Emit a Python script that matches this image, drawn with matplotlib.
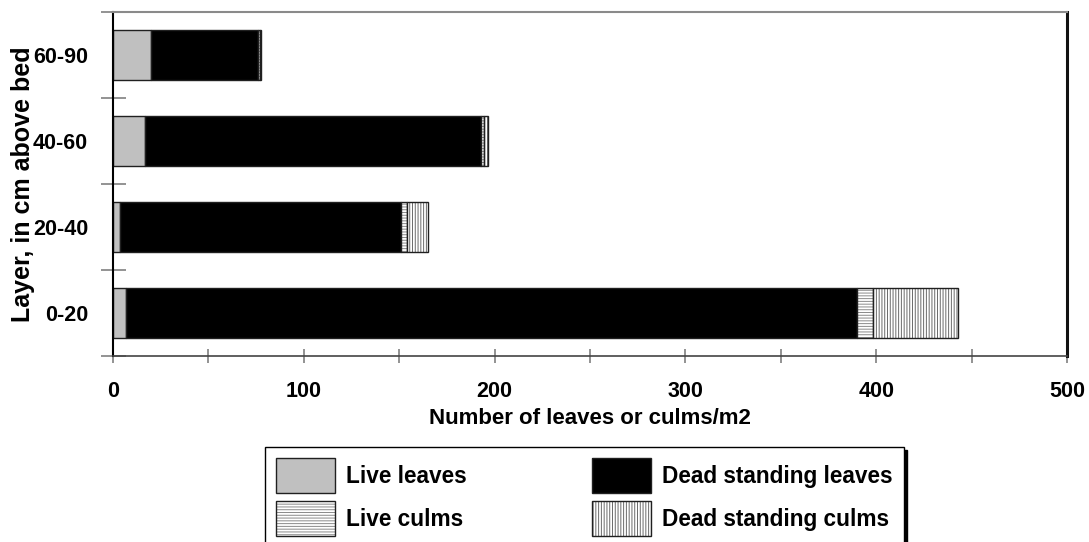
import matplotlib
matplotlib.use("Agg")
import matplotlib.pyplot as plt
from matplotlib.patches import Patch
from matplotlib.legend_handler import HandlerTuple
import numpy as np

# data
layers = ["0-20", "20-40", "40-60", "60-90"]
live_leaves = [7.0, 3.5, 17.0, 19.8]
dead_leaves = [383.1, 147.4, 175.8, 56.4]
live_culms = [8.3, 3.3, 1.5, 0.8]
dead_culms = [44.7, 11.0, 2.2, 0.8]

series_names = ["Live leaves", "Dead standing leaves", "Live culms", "Dead standing culms"]
xticks = [0, 100, 200, 300, 400, 500]

plt.rcParams["font.family"] = ["Liberation Sans", "DejaVu Sans"]
plt.rcParams["font.weight"] = "bold"
plt.rcParams["hatch.linewidth"] = 0.7

fig = plt.figure(figsize=(10.89, 5.42), dpi=100)
ax = fig.add_axes([113 / 1089, 1 - 356 / 542, (1067 - 113) / 1089, (356 - 12) / 542])

y = np.arange(len(layers))
h = 0.57
series = [live_leaves, dead_leaves, live_culms, dead_culms]
fills = ["#c0c0c0", "black", "white", "white"]
hatches = [None, None, "------", "||||||"]
hatch_cols = ["#c0c0c0", "black", "#8a8a8a", "#6a6a6a"]

left = np.zeros(len(layers))
handles = []
for vals, fc, ht, hc in zip(series, fills, hatches, hatch_cols):
    # fill + hatch first, then a dark outline on top
    ax.barh(y, vals, height=h, left=left, color=fc, hatch=ht, edgecolor=hc, linewidth=0)
    ax.barh(y, vals, height=h, left=left, fill=False, edgecolor="#202020", linewidth=1.0)
    left += np.array(vals)
    handles.append((Patch(facecolor=fc, hatch=ht, edgecolor=hc, linewidth=0),
                    Patch(fill=False, edgecolor="#202020", linewidth=1.0)))

ax.set_xlim(0, 500)
ax.set_ylim(-0.5, 3.5)

fs = 15.5
ax.set_xticks(xticks)
ax.set_xticklabels([str(t) for t in xticks], fontsize=fs, fontweight="bold")
ax.set_xticks(np.arange(50, 500, 100), minor=True)
ax.tick_params(axis="x", which="both", direction="inout", length=10, width=1.2,
               color="#808080", pad=13)

ax.set_yticks(y)
ax.set_yticklabels(layers, fontsize=fs, fontweight="bold")
ax.set_yticks(np.arange(-0.5, 4, 1), minor=True)
ax.tick_params(axis="y", which="major", length=0, pad=18)
ax.tick_params(axis="y", which="minor", direction="inout", length=18, width=1.2,
               color="#808080")

ax.set_xlabel("Number of leaves or culms/m2", fontsize=16, fontweight="bold", labelpad=4)
ax.set_ylabel("Layer, in cm above bed", fontsize=18, fontweight="bold")
ax.yaxis.set_label_coords(-0.082, 0.5)

ax.spines["left"].set_color("black")
ax.spines["left"].set_linewidth(1.5)
ax.spines["right"].set_color("#111111")
ax.spines["right"].set_linewidth(2.2)
ax.spines["top"].set_color("#8a8a8a")
ax.spines["top"].set_linewidth(1.5)
ax.spines["bottom"].set_color("#444444")
ax.spines["bottom"].set_linewidth(1.2)

# legend: column 1 live, column 2 dead
order = [0, 2, 1, 3]
leg = fig.legend([handles[i] for i in order], [series_names[i] for i in order],
                 handler_map={tuple: HandlerTuple(ndivide=1)},
                 loc="upper left", bbox_to_anchor=(265 / 1089, 1 - 447 / 542),
                 ncol=2, prop={"weight": "bold", "size": 16.3},
                 frameon=True, fancybox=False, edgecolor="black",
                 shadow={"color": "black", "alpha": 1.0},
                 handlelength=2.57, handleheight=2.0, handletextpad=0.53,
                 columnspacing=5.53, labelspacing=0.35, borderpad=0.5,
                 borderaxespad=0)
leg.get_frame().set_linewidth(1.0)

fig.savefig("out.png", dpi=100)
